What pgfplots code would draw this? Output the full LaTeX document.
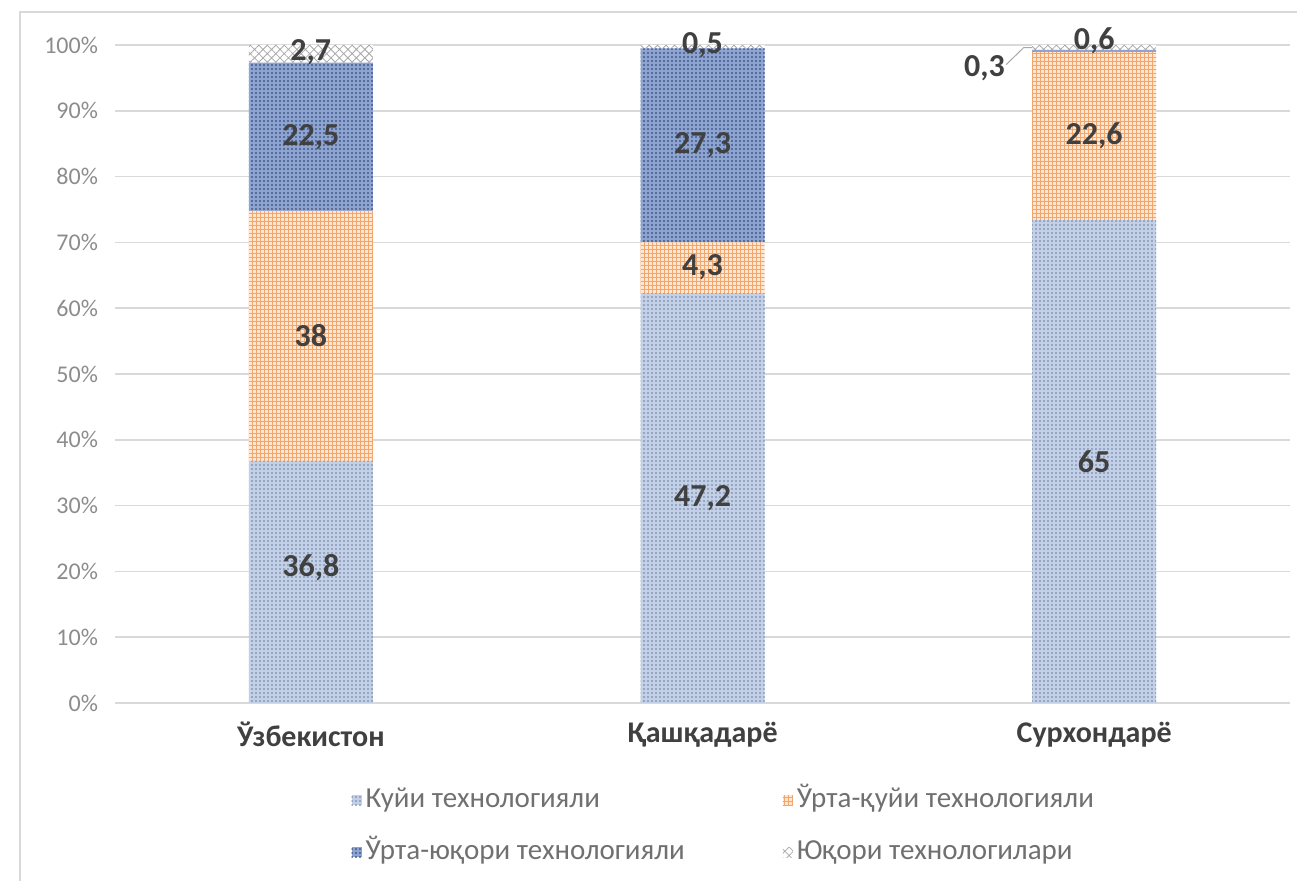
\documentclass[border=0pt]{standalone}
\usepackage{fontspec}
\setmainfont{Carlito}
\usepackage{pgfplots}
\pgfplotsset{compat=1.18}
\usepackage{pgfplotstable}
\usetikzlibrary{patterns.meta}
\definecolor{cgrid}{HTML}{D9D9D9}
\definecolor{ctick}{HTML}{8C8C8C}
\definecolor{ccat}{HTML}{404040}
\definecolor{clab}{HTML}{404040}
\definecolor{cleg}{HTML}{707070}
\definecolor{lbfill}{HTML}{C3D0E6}
\definecolor{lbdot}{HTML}{8599BD}
\definecolor{orfill}{HTML}{FDE6D2}
\definecolor{orline}{HTML}{F3A66C}
\definecolor{dbfill}{HTML}{8EA5D2}
\definecolor{dbdot}{HTML}{42598C}
\definecolor{topline}{HTML}{A8A8A8}

% bar segments (share of 100%)
\pgfplotstableread{
x y
0 36.8
1 62.3
2 73.4
}\tA
\pgfplotstableread{
x y
0 38.0
1 7.7
2 25.5
}\tB
\pgfplotstableread{
x y
0 22.5
1 29.5
2 0.34
}\tC
\pgfplotstableread{
x y
0 2.7
1 0.5
2 0.76
}\tD
% data labels: x, vertical position (segment centre), printed value
\pgfplotstableread{
x y label
0 20.5 36,8
0 55.8 38
0 86.0 22,5
0 98.9 2,7
1 31.2 47,2
1 66.2 4,3
1 84.7 27,3
1 99.9 0,5
2 36.7 65
2 86.2 22,6
2 100.6 0,6
1.72 96.4 0,3
}\tLab

\begin{document}
\begin{tikzpicture}
\useasboundingbox (0,0) rectangle (648.5pt,440.5pt);
\draw[cgrid, line width=0.6pt] (10pt,0) -- (10pt,434.5pt) -- (648.5pt,434.5pt);
\pgfplotsset{common/.style={
  at={(57.5pt,89pt)}, anchor=south west,
  width=587.5pt, height=329pt, scale only axis,
  xmin=-0.5, xmax=2.5, ymin=0, ymax=100}}
\begin{axis}[
  common,
  ybar stacked, bar width=62pt,
  xtick={0,1,2},
  xticklabels={Ўзбекистон, Қашқадарё, Сурхондарё},
  ytick={0,10,...,100},
  yticklabels={0\%,10\%,20\%,30\%,40\%,50\%,60\%,70\%,80\%,90\%,100\%},
  major tick length=0pt,
  axis lines*=left,
  y axis line style={draw=none},
  x axis line style={draw=cgrid, line width=0.8pt},
  ymajorgrids, grid style={cgrid, line width=0.8pt},
  yticklabel style={font=\fontsize{12}{14}\selectfont, text=ctick, xshift=-5pt},
  xticklabel style={font=\bfseries\fontsize{15}{17}\selectfont, text=ccat, yshift=-6pt},
  legend columns=2,
  legend cell align=left,
  legend style={at={(0.196,-0.115)}, anchor=north west, draw=none, fill=none,
    font=\fontsize{14.5}{16}\selectfont, text=cleg,
    nodes={text height=10pt, text depth=3pt, inner sep=2pt},
    row sep=9pt,
    /tikz/every even column/.append style={column sep=47pt},
    /tikz/every odd column/.append style={column sep=0pt}},
  legend image code/.code={\path[#1] (0pt,-2.5pt) rectangle (5pt,2.5pt);},
]
\addplot[draw=none, fill=lbfill, postaction={pattern={Dots[distance=2pt, radius=0.55pt]}, pattern color=lbdot}] table[x=x, y=y] {\tA};
\addplot[draw=none, fill=orfill, postaction={pattern={Hatch[distance=2pt, angle=0, line width=0.42pt]}, pattern color=orline}] table[x=x, y=y] {\tB};
\addplot[draw=none, fill=dbfill, postaction={pattern={Dots[distance=2pt, radius=0.55pt]}, pattern color=dbdot}] table[x=x, y=y] {\tC};
\addplot[draw=none, fill=white, postaction={pattern={Hatch[distance=3pt, angle=45, line width=0.4pt]}, pattern color=topline}] table[x=x, y=y] {\tD};
\legend{Куйи технологияли, Ўрта-қуйи технологияли, Ўрта-юқори технологияли, Юқори технологилари}
\draw[topline, line width=0.5pt] (axis cs:1.775,97.0) -- (axis cs:1.82,99.6) -- (axis cs:1.842,99.6);
\end{axis}
\begin{axis}[common, hide axis, clip=false]
\addplot[only marks, mark=none, point meta=explicit symbolic, nodes near coords,
  every node near coord/.append style={font=\bfseries\fontsize{16}{18}\selectfont, text=clab, anchor=center, inner sep=0pt}]
  table[x=x, y=y, meta=label] {\tLab};
\end{axis}
\end{tikzpicture}
\end{document}
